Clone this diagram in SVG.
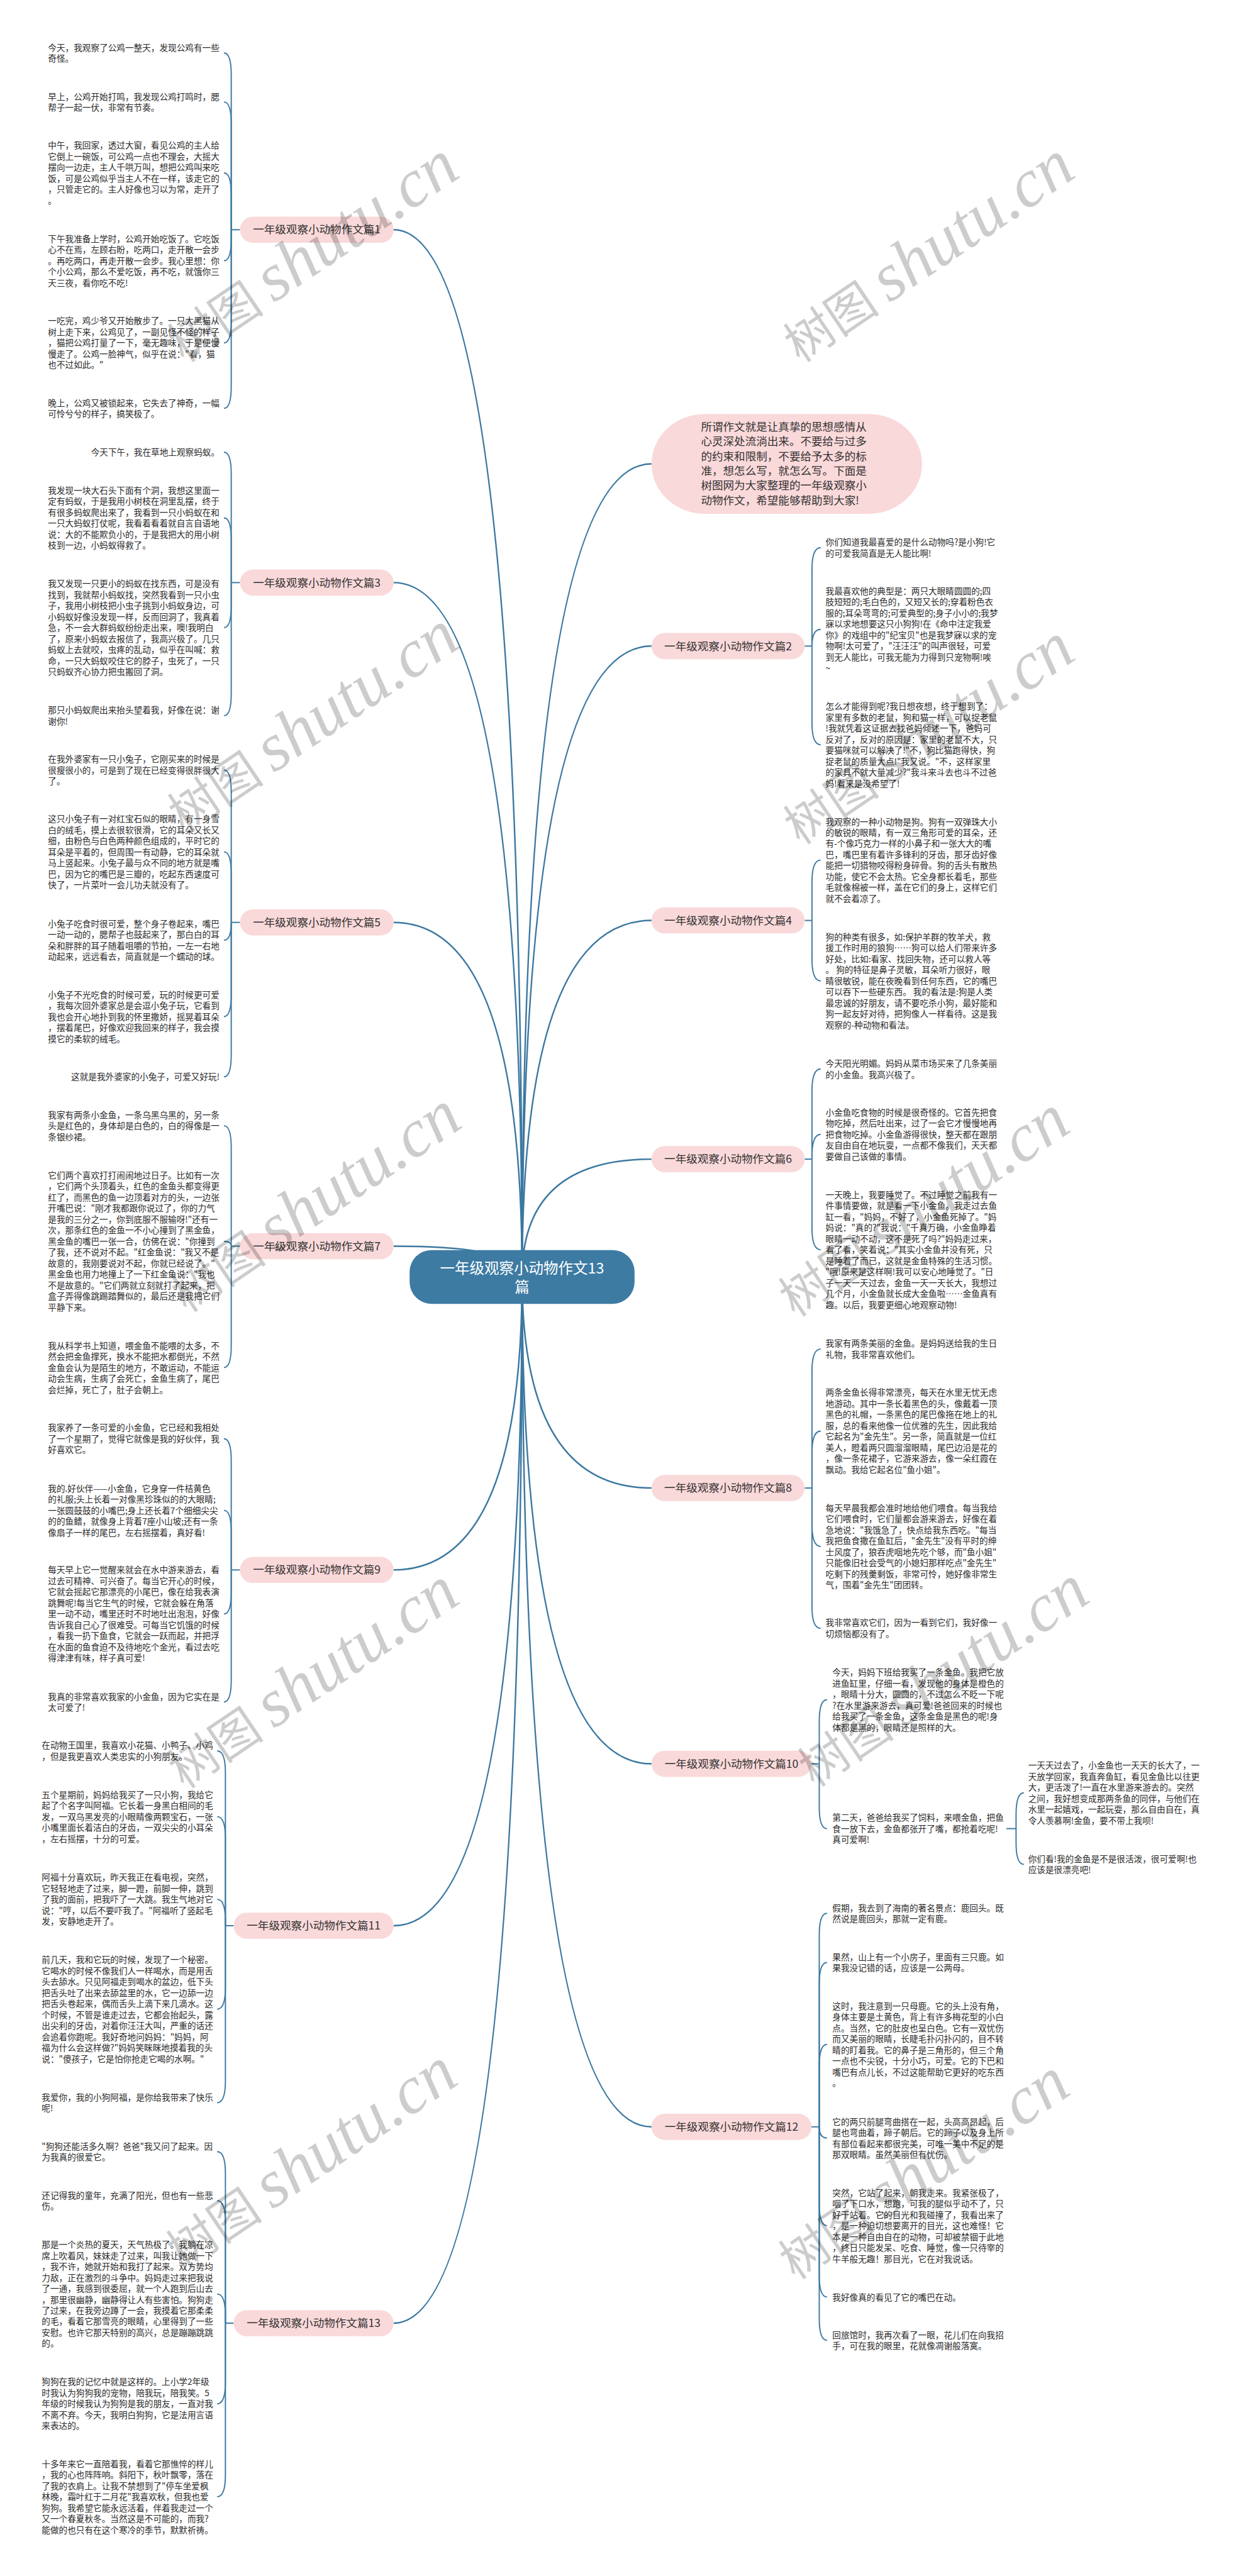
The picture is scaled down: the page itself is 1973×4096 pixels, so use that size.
<svg xmlns="http://www.w3.org/2000/svg" width="1973" height="4096" viewBox="0 0 1973 4096">
<style>
.t{font-family:"Noto Sans CJK SC","Noto Sans",sans-serif;font-size:17.7px;fill:#2b2b2b}
.b{font-family:"Noto Sans CJK SC","Noto Sans",sans-serif;font-size:22.8px;fill:#333;text-anchor:middle}
.c{font-family:"Noto Sans CJK SC","Noto Sans",sans-serif;font-size:30.5px;fill:#fff;text-anchor:middle}
.pk{fill:#fad9da}
.mn{fill:none;stroke:#3c78a1;stroke-width:3.2}
.ln{fill:none;stroke:#3c78a1;stroke-width:2.5}
.wm{fill:#000;fill-opacity:0.2}
.wc{font-family:"Noto Sans CJK SC",sans-serif;font-size:100px}
.wl{font-family:"Liberation Serif",serif;font-style:italic;font-size:140px}
</style>
<rect width="1973" height="4096" fill="#fff"/>
<g transform="scale(0.7707)">
<g id="connectors">
<path class="mn" d="M1077,2634 Q1077,474 812,474"/>
<path class="mn" d="M1077,2634 Q1077,1202 812,1202"/>
<path class="mn" d="M1077,2634 Q1077,1903 812,1903"/>
<path class="mn" d="M1077,2634 Q1077,2571 812,2571"/>
<path class="mn" d="M1077,2634 Q1077,3239 812,3239"/>
<path class="mn" d="M1077,2634 Q1077,3973 812,3973"/>
<path class="mn" d="M1077,2634 Q1077,4793 812,4793"/>
<path class="mn" d="M1077,2634 Q1077,957 1344,957"/>
<path class="mn" d="M1077,2634 Q1077,1333 1344,1333"/>
<path class="mn" d="M1077,2634 Q1077,1899 1344,1899"/>
<path class="mn" d="M1077,2634 Q1077,2391.5 1344,2391.5"/>
<path class="mn" d="M1077,2634 Q1077,3070 1344,3070"/>
<path class="mn" d="M1077,2634 Q1077,3639 1344,3639"/>
<path class="mn" d="M1077,2634 Q1077,4388 1344,4388"/>
<!-- B1 -->
<path class="ln" d="M495,474 H477"/>
<path class="ln" d="M477,474 V154.4 Q477,109.4 462,109.4"/>
<path class="ln" d="M477,474 V255.4 Q477,210.4 462,210.4"/>
<path class="ln" d="M477,474 V401.8 Q477,356.8 462,356.8"/>
<path class="ln" d="M477,474 V492.9 Q477,537.9 462,537.9"/>
<path class="ln" d="M477,474 V662.4 Q477,707.4 462,707.4"/>
<path class="ln" d="M477,474 V797.4 Q477,842.4 462,842.4"/>
<!-- B3 -->
<path class="ln" d="M495,1202 H477"/>
<path class="ln" d="M477,1202 V978 Q477,933 462,933"/>
<path class="ln" d="M477,1202 V1113.4 Q477,1068.4 462,1068.4"/>
<path class="ln" d="M477,1202 V1249.8 Q477,1294.8 462,1294.8"/>
<path class="ln" d="M477,1202 V1431.4 Q477,1476.4 462,1476.4"/>
<!-- B5 -->
<path class="ln" d="M495,1903 H477"/>
<path class="ln" d="M477,1903 V1633.7 Q477,1588.7 462,1588.7"/>
<path class="ln" d="M477,1903 V1802.7 Q477,1757.7 462,1757.7"/>
<path class="ln" d="M477,1903 Q477,1939.8 462,1939.8"/>
<path class="ln" d="M477,1903 V2052.4 Q477,2097.4 462,2097.4"/>
<path class="ln" d="M477,1903 V2176.6 Q477,2221.6 462,2221.6"/>
<!-- B7 -->
<path class="ln" d="M495,2571 H477"/>
<path class="ln" d="M477,2571 V2367.7 Q477,2322.7 462,2322.7"/>
<path class="ln" d="M477,2571 Q477,2561 462,2561"/>
<path class="ln" d="M477,2571 V2776.4 Q477,2821.4 462,2821.4"/>
<!-- B9 -->
<path class="ln" d="M495,3239 H477"/>
<path class="ln" d="M477,3239 V3013.3 Q477,2968.3 462,2968.3"/>
<path class="ln" d="M477,3239 V3161.2 Q477,3116.2 462,3116.2"/>
<path class="ln" d="M477,3239 V3284.8 Q477,3329.8 462,3329.8"/>
<path class="ln" d="M477,3239 V3466.4 Q477,3511.4 462,3511.4"/>
<!-- B11 -->
<path class="ln" d="M482,3973 H465"/>
<path class="ln" d="M465,3973 V3657.4 Q465,3612.4 448,3612.4"/>
<path class="ln" d="M465,3973 V3793.1 Q465,3748.1 448,3748.1"/>
<path class="ln" d="M465,3973 V3963.7 Q465,3918.7 448,3918.7"/>
<path class="ln" d="M465,3973 V4100.2 Q465,4145.2 448,4145.2"/>
<path class="ln" d="M465,3973 V4293.2 Q465,4338.2 448,4338.2"/>
<!-- B13 -->
<path class="ln" d="M482,4793 H465"/>
<path class="ln" d="M465,4793 V4484.2 Q465,4439.2 448,4439.2"/>
<path class="ln" d="M465,4793 V4585.4 Q465,4540.4 448,4540.4"/>
<path class="ln" d="M465,4793 V4777.9 Q465,4732.9 448,4732.9"/>
<path class="ln" d="M465,4793 V4914.4 Q465,4959.4 448,4959.4"/>
<path class="ln" d="M465,4793 V5106.1 Q465,5151.1 448,5151.1"/>
<!-- B2 -->
<path class="ln" d="M1660,1333 H1675"/>
<path class="ln" d="M1675,1333 V1174.8 Q1675,1129.8 1693,1129.8"/>
<path class="ln" d="M1675,1333 Q1675,1298.4 1693,1298.4"/>
<path class="ln" d="M1675,1333 V1491.5 Q1675,1536.5 1693,1536.5"/>
<!-- B4 -->
<path class="ln" d="M1660,1899 H1675"/>
<path class="ln" d="M1675,1899 V1819.5 Q1675,1774.5 1693,1774.5"/>
<path class="ln" d="M1675,1899 V1978.8 Q1675,2023.8 1693,2023.8"/>
<!-- B6 -->
<path class="ln" d="M1660,2391.5 H1675"/>
<path class="ln" d="M1675,2391.5 V2250.4 Q1675,2205.4 1693,2205.4"/>
<path class="ln" d="M1675,2391.5 V2385.4 Q1675,2340.4 1693,2340.4"/>
<path class="ln" d="M1675,2391.5 V2533.3 Q1675,2578.3 1693,2578.3"/>
<!-- B8 -->
<path class="ln" d="M1660,3070 H1675"/>
<path class="ln" d="M1675,3070 V2828.3 Q1675,2783.3 1693,2783.3"/>
<path class="ln" d="M1675,3070 V2997.5 Q1675,2952.5 1693,2952.5"/>
<path class="ln" d="M1675,3070 V3145.5 Q1675,3190.5 1693,3190.5"/>
<path class="ln" d="M1675,3070 V3314.4 Q1675,3359.4 1693,3359.4"/>
<!-- B10 -->
<path class="ln" d="M1674,3639 H1690"/>
<path class="ln" d="M1690,3639 V3551.8 Q1690,3506.8 1706,3506.8"/>
<path class="ln" d="M1690,3639 V3727.7 Q1690,3772.7 1706,3772.7"/>
<path class="ln" d="M2076,3772.7 H2096"/>
<path class="ln" d="M2096,3772.7 V3743.8 Q2096,3698.8 2112,3698.8"/>
<path class="ln" d="M2096,3772.7 V3801.4 Q2096,3846.4 2112,3846.4"/>
<!-- B12 -->
<path class="ln" d="M1674,4388 H1690"/>
<path class="ln" d="M1690,4388 V3992.4 Q1690,3947.4 1706,3947.4"/>
<path class="ln" d="M1690,4388 V4094 Q1690,4049 1706,4049"/>
<path class="ln" d="M1690,4388 V4263 Q1690,4218 1706,4218"/>
<path class="ln" d="M1690,4388 Q1690,4411 1706,4411"/>
<path class="ln" d="M1690,4388 V4546.8 Q1690,4591.8 1706,4591.8"/>
<path class="ln" d="M1690,4388 V4694 Q1690,4739 1706,4739"/>
<path class="ln" d="M1690,4388 V4783.4 Q1690,4828.4 1706,4828.4"/>
</g>

<g id="n-root">
<rect x="845" y="2579" width="464" height="111" rx="45" fill="#3d7ba3"/>
<text class="c" x="1077" y="2627">一年级观察小动物作文13</text>
<text class="c" x="1077" y="2667">篇</text>
</g>

<g id="n-intro">
<rect class="pk" x="1344" y="854" width="558" height="206" rx="110" ry="103"/>
<text class="t" style="font-size:22.8px;fill:#333" transform="translate(1446,888.5)">
<tspan x="0" y="0">所谓作文就是让真挚的思想感情从</tspan>
<tspan x="0" y="30.4">心灵深处流淌出来。不要给与过多</tspan>
<tspan x="0" y="60.8">的约束和限制，不要给予太多的标</tspan>
<tspan x="0" y="91.2">准，想怎么写，就怎么写。下面是</tspan>
<tspan x="0" y="121.6">树图网为大家整理的一年级观察小</tspan>
<tspan x="0" y="152">动物作文，希望能够帮助到大家!</tspan>
</text>
</g>

<!-- Branch nodes -->
<g id="n-b1"><rect class="pk" x="495" y="447" width="317" height="54" rx="27"/><text class="b" x="653.5" y="482">一年级观察小动物作文篇1</text></g>
<g id="n-b3"><rect class="pk" x="495" y="1175" width="317" height="54" rx="27"/><text class="b" x="653.5" y="1210">一年级观察小动物作文篇3</text></g>
<g id="n-b5"><rect class="pk" x="495" y="1876" width="317" height="54" rx="27"/><text class="b" x="653.5" y="1911">一年级观察小动物作文篇5</text></g>
<g id="n-b7"><rect class="pk" x="495" y="2544" width="317" height="54" rx="27"/><text class="b" x="653.5" y="2579">一年级观察小动物作文篇7</text></g>
<g id="n-b9"><rect class="pk" x="495" y="3212" width="317" height="54" rx="27"/><text class="b" x="653.5" y="3247">一年级观察小动物作文篇9</text></g>
<g id="n-b11"><rect class="pk" x="482" y="3946" width="330" height="54" rx="27"/><text class="b" x="647" y="3981">一年级观察小动物作文篇11</text></g>
<g id="n-b13"><rect class="pk" x="482" y="4766" width="330" height="54" rx="27"/><text class="b" x="647" y="4801">一年级观察小动物作文篇13</text></g>
<g id="n-b2"><rect class="pk" x="1344" y="1306" width="316" height="54" rx="27"/><text class="b" x="1502" y="1341">一年级观察小动物作文篇2</text></g>
<g id="n-b4"><rect class="pk" x="1344" y="1872" width="316" height="54" rx="27"/><text class="b" x="1502" y="1907">一年级观察小动物作文篇4</text></g>
<g id="n-b6"><rect class="pk" x="1344" y="2364.5" width="316" height="54" rx="27"/><text class="b" x="1502" y="2399.5">一年级观察小动物作文篇6</text></g>
<g id="n-b8"><rect class="pk" x="1344" y="3043" width="316" height="54" rx="27"/><text class="b" x="1502" y="3078">一年级观察小动物作文篇8</text></g>
<g id="n-b10"><rect class="pk" x="1344" y="3612" width="330" height="54" rx="27"/><text class="b" x="1509" y="3647">一年级观察小动物作文篇10</text></g>
<g id="n-b12"><rect class="pk" x="1344" y="4361" width="330" height="54" rx="27"/><text class="b" x="1509" y="4396">一年级观察小动物作文篇12</text></g>

<!-- B1 leaves -->
<g id="n-b1-1"><text class="t" transform="translate(99,104.7)"><tspan x="0" y="0">今天，我观察了公鸡一整天，发现公鸡有一些</tspan><tspan x="0" y="22.7">奇怪。</tspan></text></g>
<g id="n-b1-2"><text class="t" transform="translate(99,205.7)"><tspan x="0" y="0">早上，公鸡开始打鸣，我发现公鸡打鸣时，腮</tspan><tspan x="0" y="22.7">帮子一起一伏，非常有节奏。</tspan></text></g>
<g id="n-b1-3"><text class="t" transform="translate(99,306.7)"><tspan x="0" y="0">中午，我回家，透过大窗，看见公鸡的主人给</tspan><tspan x="0" y="22.7">它倒上一碗饭，可公鸡一点也不理会，大摇大</tspan><tspan x="0" y="45.4">摆向一边走，主人千哄万叫，想把公鸡叫来吃</tspan><tspan x="0" y="68.1">饭，可是公鸡似乎当主人不在一样，该走它的</tspan><tspan x="0" y="90.8">，只管走它的。主人好像也习以为常，走开了</tspan><tspan x="0" y="113.5">。</tspan></text></g>
<g id="n-b1-4"><text class="t" transform="translate(99,499.2)"><tspan x="0" y="0">下午我准备上学时，公鸡开始吃饭了。它吃饭</tspan><tspan x="0" y="22.7">心不在焉，左顾右盼，吃两口，走开散一会步</tspan><tspan x="0" y="45.4">。再吃两口，再走开散一会步。我心里想：你</tspan><tspan x="0" y="68.1">个小公鸡，那么不爱吃饭，再不吃，就饿你三</tspan><tspan x="0" y="90.8">天三夜，看你吃不吃!</tspan></text></g>
<g id="n-b1-5"><text class="t" transform="translate(99,668.7)"><tspan x="0" y="0">一吃完，鸡少爷又开始散步了。一只大黑猫从</tspan><tspan x="0" y="22.7">树上走下来，公鸡见了，一副见怪不怪的样子</tspan><tspan x="0" y="45.4">，猫把公鸡打量了一下，毫无趣味，于是便慢</tspan><tspan x="0" y="68.1">慢走了。公鸡一脸神气，似乎在说："看，猫</tspan><tspan x="0" y="90.8">也不过如此。"</tspan></text></g>
<g id="n-b1-6"><text class="t" transform="translate(99,837.7)"><tspan x="0" y="0">晚上，公鸡又被锁起来，它失去了神奇，一幅</tspan><tspan x="0" y="22.7">可怜兮兮的样子，搞笑极了。</tspan></text></g>

<!-- B3 leaves -->
<g id="n-b3-1"><text class="t" x="453" y="939.7" text-anchor="end">今天下午，我在草地上观察蚂蚁。</text></g>
<g id="n-b3-2"><text class="t" transform="translate(99,1018.3)"><tspan x="0" y="0">我发现一块大石头下面有个洞，我想这里面一</tspan><tspan x="0" y="22.7">定有蚂蚁，于是我用小树枝在洞里乱摆，终于</tspan><tspan x="0" y="45.4">有很多蚂蚁爬出来了，我看到一只小蚂蚁在和</tspan><tspan x="0" y="68.1">一只大蚂蚁打仗呢，我看着看着就自言自语地</tspan><tspan x="0" y="90.8">说：大的不能欺负小的，于是我把大的用小树</tspan><tspan x="0" y="113.5">枝到一边，小蚂蚁得救了。</tspan></text></g>
<g id="n-b3-3"><text class="t" transform="translate(99,1210.7)"><tspan x="0" y="0">我又发现一只更小的蚂蚁在找东西，可是没有</tspan><tspan x="0" y="22.7">找到，我就帮小蚂蚁找，突然我看到一只小虫</tspan><tspan x="0" y="45.4">子，我用小树枝把小虫子挑到小蚂蚁身边，可</tspan><tspan x="0" y="68.1">小蚂蚁好像没发现一样，反而回洞了，我真着</tspan><tspan x="0" y="90.8">急，不一会大群蚂蚁纷纷走出来，噢!我明白</tspan><tspan x="0" y="113.5">了，原来小蚂蚁去报信了，我高兴极了。几只</tspan><tspan x="0" y="136.2">蚂蚁上去就咬，虫疼的乱动，似乎在叫喊：救</tspan><tspan x="0" y="158.9">命，一只大蚂蚁咬住它的脖子，虫死了，一只</tspan><tspan x="0" y="181.6">只蚂蚁齐心协力把虫搬回了洞。</tspan></text></g>
<g id="n-b3-4"><text class="t" transform="translate(99,1471.7)"><tspan x="0" y="0">那只小蚂蚁爬出来抬头望着我，好像在说：谢</tspan><tspan x="0" y="22.7">谢你!</tspan></text></g>

<!-- B5 leaves -->
<g id="n-b5-1"><text class="t" transform="translate(99,1572.7)"><tspan x="0" y="0">在我外婆家有一只小兔子，它刚买来的时候是</tspan><tspan x="0" y="22.7">很瘦很小的，可是到了现在已经变得很胖很大</tspan><tspan x="0" y="45.4">了。</tspan></text></g>
<g id="n-b5-2"><text class="t" transform="translate(99,1696.3)"><tspan x="0" y="0">这只小兔子有一对红宝石似的眼睛，有一身雪</tspan><tspan x="0" y="22.7">白的绒毛，摸上去很软很滑，它的耳朵又长又</tspan><tspan x="0" y="45.4">细，由粉色与白色两种颜色组成的，平时它的</tspan><tspan x="0" y="68.1">耳朵是平着的，但周围一有动静，它的耳朵就</tspan><tspan x="0" y="90.8">马上竖起来。小兔子最与众不同的地方就是嘴</tspan><tspan x="0" y="113.5">巴，因为它的嘴巴是三瓣的，吃起东西速度可</tspan><tspan x="0" y="136.2">快了，一片菜叶一会儿功夫就没有了。</tspan></text></g>
<g id="n-b5-3"><text class="t" transform="translate(99,1912.4)"><tspan x="0" y="0">小兔子吃食时很可爱，整个身子卷起来，嘴巴</tspan><tspan x="0" y="22.7">一动一动的，腮帮子也鼓起来了，那白白的耳</tspan><tspan x="0" y="45.4">朵和胖胖的耳子随着咀嚼的节拍，一左一右地</tspan><tspan x="0" y="68.1">动起来，远远看去，简直就是一个蠕动的球。</tspan></text></g>
<g id="n-b5-4"><text class="t" transform="translate(99,2058.7)"><tspan x="0" y="0">小兔子不光吃食的时候可爱，玩的时候更可爱</tspan><tspan x="0" y="22.7">，我每次回外婆家总是会逗小兔子玩，它看到</tspan><tspan x="0" y="45.4">我也会开心地扑到我的怀里撒娇，摇晃着耳朵</tspan><tspan x="0" y="68.1">，摆着尾巴，好像欢迎我回来的样子，我会摸</tspan><tspan x="0" y="90.8">摸它的柔软的绒毛。</tspan></text></g>
<g id="n-b5-5"><text class="t" x="453" y="2228.3" text-anchor="end">这就是我外婆家的小兔子，可爱又好玩!</text></g>

<!-- B7 leaves -->
<g id="n-b7-1"><text class="t" transform="translate(99,2306.7)"><tspan x="0" y="0">我家有两条小金鱼，一条乌黑乌黑的，另一条</tspan><tspan x="0" y="22.7">头是红色的，身体却是白色的，白的得像是一</tspan><tspan x="0" y="45.4">条银纱裙。</tspan></text></g>
<g id="n-b7-2"><text class="t" transform="translate(99,2431.5)"><tspan x="0" y="0">它们两个喜欢打打闹闹地过日子。比如有一次</tspan><tspan x="0" y="22.7">，它们两个头顶着头，红色的金鱼头都变得更</tspan><tspan x="0" y="45.4">红了，而黑色的鱼一边顶着对方的头，一边张</tspan><tspan x="0" y="68.1">开嘴巴说："刚才我都跟你说过了，你的力气</tspan><tspan x="0" y="90.8">是我的三分之一，你到底服不服输呀!"还有一</tspan><tspan x="0" y="113.5">次，那条红色的金鱼一不小心撞到了黑金鱼，</tspan><tspan x="0" y="136.2">黑金鱼的嘴巴一张一合，仿佛在说："你撞到</tspan><tspan x="0" y="158.9">了我，还不说对不起。"红金鱼说："我又不是</tspan><tspan x="0" y="181.6">故意的，我刚要说对不起，你就已经说了。"</tspan><tspan x="0" y="204.3">黑金鱼也用力地撞上了一下红金鱼说："我也</tspan><tspan x="0" y="227">不是故意的。"它们两就立刻就打了起来，把</tspan><tspan x="0" y="249.7">盒子弄得像跳踢踏舞似的，最后还是我把它们</tspan><tspan x="0" y="272.4">平静下来。</tspan></text></g>
<g id="n-b7-3"><text class="t" transform="translate(99,2782.7)"><tspan x="0" y="0">我从科学书上知道，喂金鱼不能喂的太多，不</tspan><tspan x="0" y="22.7">然会把金鱼撑死，换水不能把水都倒光，不然</tspan><tspan x="0" y="45.4">金鱼会认为是陌生的地方，不敢运动，不能运</tspan><tspan x="0" y="68.1">动会生病，生病了会死亡，金鱼生病了，尾巴</tspan><tspan x="0" y="90.8">会烂掉，死亡了，肚子会朝上。</tspan></text></g>

<!-- B9 leaves -->
<g id="n-b9-1"><text class="t" transform="translate(99,2952.3)"><tspan x="0" y="0">我家养了一条可爱的小金鱼，它已经和我相处</tspan><tspan x="0" y="22.7">了一个星期了，觉得它就像是我的好伙伴，我</tspan><tspan x="0" y="45.4">好喜欢它。</tspan></text></g>
<g id="n-b9-2"><text class="t" transform="translate(99,3077.5)"><tspan x="0" y="0">我的.好伙伴——小金鱼，它身穿一件桔黄色</tspan><tspan x="0" y="22.7">的礼服;头上长着一对像黑珍珠似的的大眼睛;</tspan><tspan x="0" y="45.4">一张圆鼓鼓的小嘴巴;身上还长着7个细细尖尖</tspan><tspan x="0" y="68.1">的的鱼鳍，就像身上背着7座小山坡;还有一条</tspan><tspan x="0" y="90.8">像扇子一样的尾巴，左右摇摆着，真好看!</tspan></text></g>
<g id="n-b9-3"><text class="t" transform="translate(99,3245.7)"><tspan x="0" y="0">每天早上它一觉醒来就会在水中游来游去，看</tspan><tspan x="0" y="22.7">过去可精神、可兴奋了。每当它开心的时候，</tspan><tspan x="0" y="45.4">它就会摇起它那漂亮的小尾巴，像在给我表演</tspan><tspan x="0" y="68.1">跳舞呢!每当它生气的时候，它就会躲在角落</tspan><tspan x="0" y="90.8">里一动不动，嘴里还时不时地吐出泡泡，好像</tspan><tspan x="0" y="113.5">告诉我自己心了很难受。可每当它饥饿的时候</tspan><tspan x="0" y="136.2">，看我一扔下鱼食，它就会一跃而起，并把浮</tspan><tspan x="0" y="158.9">在水面的鱼食迫不及待地吃个金光，看过去吃</tspan><tspan x="0" y="181.6">得津津有味，样子真可爱!</tspan></text></g>
<g id="n-b9-4"><text class="t" transform="translate(99,3506.7)"><tspan x="0" y="0">我真的非常喜欢我家的小金鱼，因为它实在是</tspan><tspan x="0" y="22.7">太可爱了!</tspan></text></g>

<!-- B11 leaves -->
<g id="n-b11-1"><text class="t" transform="translate(86,3607.7)"><tspan x="0" y="0">在动物王国里，我喜欢小花猫、小鸭子、小鸡</tspan><tspan x="0" y="22.7">，但是我更喜欢人类忠实的小狗朋友。</tspan></text></g>
<g id="n-b11-2"><text class="t" transform="translate(86,3709.4)"><tspan x="0" y="0">五个星期前，妈妈给我买了一只小狗，我给它</tspan><tspan x="0" y="22.7">起了个名字叫阿福。它长着一身黑白相间的毛</tspan><tspan x="0" y="45.4">发，一双乌黑发亮的小眼睛像两颗宝石，一张</tspan><tspan x="0" y="68.1">小嘴里面长着洁白的牙齿，一双尖尖的小耳朵</tspan><tspan x="0" y="90.8">，左右摇摆，十分的可爱。</tspan></text></g>
<g id="n-b11-3"><text class="t" transform="translate(86,3880)"><tspan x="0" y="0">阿福十分喜欢玩，昨天我正在看电视，突然，</tspan><tspan x="0" y="22.7">它轻轻地走了过来，脚一蹬，前脚一伸，跳到</tspan><tspan x="0" y="45.4">了我的面前，把我吓了一大跳。我生气地对它</tspan><tspan x="0" y="68.1">说："哼，以后不要吓我了。"阿福听了竖起毛</tspan><tspan x="0" y="90.8">发，安静地走开了。</tspan></text></g>
<g id="n-b11-4"><text class="t" transform="translate(86,4049.7)"><tspan x="0" y="0">前几天，我和它玩的时候，发现了一个秘密。</tspan><tspan x="0" y="22.7">它喝水的时候不像我们人一样喝水，而是用舌</tspan><tspan x="0" y="45.4">头去舔水。只见阿福走到喝水的盆边，低下头</tspan><tspan x="0" y="68.1">把舌头吐了出来去舔盆里的水，它一边舔一边</tspan><tspan x="0" y="90.8">把舌头卷起来，偶而舌头上滴下来几滴水。这</tspan><tspan x="0" y="113.5">个时候，不管是谁走过去，它都会抬起头，露</tspan><tspan x="0" y="136.2">出尖利的牙齿，对着你汪汪大叫，严重的话还</tspan><tspan x="0" y="158.9">会追着你跑呢。我好奇地问妈妈："妈妈，阿</tspan><tspan x="0" y="181.6">福为什么会这样做?"妈妈笑眯眯地摸着我的头</tspan><tspan x="0" y="204.3">说："傻孩子，它是怕你抢走它喝的水啊。"</tspan></text></g>
<g id="n-b11-5"><text class="t" transform="translate(86,4333.5)"><tspan x="0" y="0">我爱你，我的小狗阿福，是你给我带来了快乐</tspan><tspan x="0" y="22.7">呢!</tspan></text></g>

<!-- B13 leaves -->
<g id="n-b13-1"><text class="t" transform="translate(86,4434.5)"><tspan x="0" y="0">"狗狗还能活多久啊？爸爸"我又问了起来。因</tspan><tspan x="0" y="22.7">为我真的很爱它。</tspan></text></g>
<g id="n-b13-2"><text class="t" transform="translate(86,4535.7)"><tspan x="0" y="0">还记得我的童年，充满了阳光，但也有一些悲</tspan><tspan x="0" y="22.7">伤。</tspan></text></g>
<g id="n-b13-3"><text class="t" transform="translate(86,4637.4)"><tspan x="0" y="0">那是一个炎热的夏天，天气热极了。我躺在凉</tspan><tspan x="0" y="22.7">席上吹着风，妹妹走了过来，叫我让她做一下</tspan><tspan x="0" y="45.4">，我不许，她就开始和我打了起来。双方势均</tspan><tspan x="0" y="68.1">力敌，正在激烈的斗争中。妈妈走过来把我说</tspan><tspan x="0" y="90.8">了一通，我感到很委屈，就一个人跑到后山去</tspan><tspan x="0" y="113.5">，那里很幽静，幽静得让人有些害怕。狗狗走</tspan><tspan x="0" y="136.2">了过来，在我旁边蹲了一会，我摸着它那柔柔</tspan><tspan x="0" y="158.9">的毛，看着它那雪亮的眼睛，心里得到了一些</tspan><tspan x="0" y="181.6">安慰。也许它那天特别的高兴，总是蹦蹦跳跳</tspan><tspan x="0" y="204.3">的。</tspan></text></g>
<g id="n-b13-4"><text class="t" transform="translate(86,4920.7)"><tspan x="0" y="0">狗狗在我的记忆中就是这样的。上小学2年级</tspan><tspan x="0" y="22.7">时我认为狗狗我的宠物，陪我玩，陪我笑。5</tspan><tspan x="0" y="45.4">年级的时候我认为狗狗是我的朋友，一直对我</tspan><tspan x="0" y="68.1">不离不弃。今天，我明白狗狗，它是法用言语</tspan><tspan x="0" y="90.8">来表达的。</tspan></text></g>
<g id="n-b13-5"><text class="t" transform="translate(86,5089.7)"><tspan x="0" y="0">十多年来它一直陪着我，看着它那憔悴的样儿</tspan><tspan x="0" y="22.7">，我的心也阵阵响。斜阳下，秋叶飘零，落在</tspan><tspan x="0" y="45.4">了我的衣肩上。让我不禁想到了"停车坐爱枫</tspan><tspan x="0" y="68.1">林晚，霜叶红于二月花"我喜欢秋，但我也爱</tspan><tspan x="0" y="90.8">狗狗。我希望它能永远活着，伴着我走过一个</tspan><tspan x="0" y="113.5">又一个春夏秋冬。当然这是不可能的，而我?</tspan><tspan x="0" y="136.2">能做的也只有在这个寒冷的季节，默默祈祷。</tspan></text></g>

<!-- B2 leaves -->
<g id="n-b2-1"><text class="t" transform="translate(1703,1125.1)"><tspan x="0" y="0">你们知道我最喜爱的是什么动物吗?是小狗!它</tspan><tspan x="0" y="22.7">的可爱我简直是无人能比啊!</tspan></text></g>
<g id="n-b2-2"><text class="t" transform="translate(1703,1225.6)"><tspan x="0" y="0">我最喜欢他的典型是：两只大眼睛圆圆的;四</tspan><tspan x="0" y="22.7">肢短短的;毛白色的，又短又长的;穿着粉色衣</tspan><tspan x="0" y="45.4">服的;耳朵弯弯的;可爱典型的;身子小小的;我梦</tspan><tspan x="0" y="68.1">寐以求地想要这只小狗狗!在《命中注定我爱</tspan><tspan x="0" y="90.8">你》的戏组中的"纪宝贝"也是我梦寐以求的宠</tspan><tspan x="0" y="113.5">物啊!太可爱了，"汪汪汪"的叫声很轻，可爱</tspan><tspan x="0" y="136.2">到无人能比，可我无能为力得到只宠物啊!唉</tspan><tspan x="0" y="158.9">~</tspan></text></g>
<g id="n-b2-3"><text class="t" transform="translate(1703,1463.7)"><tspan x="0" y="0">怎么才能得到呢?我日想夜想，终于想到了：</tspan><tspan x="0" y="22.7">家里有多数的老鼠，狗和猫一样，可以捉老鼠</tspan><tspan x="0" y="45.4">!我就凭着这证据去找爸妈倾述一下，爸妈可</tspan><tspan x="0" y="68.1">反对了，反对的原因是：家里的老鼠不大，只</tspan><tspan x="0" y="90.8">要猫咪就可以解决了!"不，狗比猫跑得快，狗</tspan><tspan x="0" y="113.5">捉老鼠的质量大点!"我又说。"不，这样家里</tspan><tspan x="0" y="136.2">的家具不就大量减少?"我斗来斗去也斗不过爸</tspan><tspan x="0" y="158.9">妈!看来是没希望了!</tspan></text></g>

<!-- B4 leaves -->
<g id="n-b4-1"><text class="t" transform="translate(1703,1701.7)"><tspan x="0" y="0">我观察的一种小动物是狗。狗有一双弹珠大小</tspan><tspan x="0" y="22.7">的敏锐的眼睛，有一双三角形可爱的耳朵，还</tspan><tspan x="0" y="45.4">有-个像巧克力一样的小鼻子和一张大大的嘴</tspan><tspan x="0" y="68.1">巴，嘴巴里有着许多锋利的牙齿，那牙齿好像</tspan><tspan x="0" y="90.8">能把一切猎物咬得粉身碎骨。狗的舌头有散热</tspan><tspan x="0" y="113.5">功能，使它不会太热。它全身都长着毛，那些</tspan><tspan x="0" y="136.2">毛就像棉被一样，盖在它们的身上，这样它们</tspan><tspan x="0" y="158.9">就不会着凉了。</tspan></text></g>
<g id="n-b4-2"><text class="t" transform="translate(1703,1939.7)"><tspan x="0" y="0">狗的种类有很多，如:保护羊群的牧羊犬，救</tspan><tspan x="0" y="22.7">援工作时用的狼狗……狗可以给人们带来许多</tspan><tspan x="0" y="45.4">好处，比如:看家、找回失物，还可以救人等</tspan><tspan x="0" y="68.1">。 狗的特征是鼻子灵敏，耳朵听力很好，眼</tspan><tspan x="0" y="90.8">睛很敏锐，能在夜晚看到任何东西，它的嘴巴</tspan><tspan x="0" y="113.5">可以吞下一些硬东西。 我的看法是:狗是人类</tspan><tspan x="0" y="136.2">最忠诚的好朋友，请不要吃杀小狗，最好能和</tspan><tspan x="0" y="158.9">狗一起友好对待，把狗像人一样看待。这是我</tspan><tspan x="0" y="181.6">观察的-种动物和看法。</tspan></text></g>

<!-- B6 leaves -->
<g id="n-b6-1"><text class="t" transform="translate(1703,2200.7)"><tspan x="0" y="0">今天阳光明媚。妈妈从菜市场买来了几条美丽</tspan><tspan x="0" y="22.7">的小金鱼。我高兴极了。</tspan></text></g>
<g id="n-b6-2"><text class="t" transform="translate(1703,2301.7)"><tspan x="0" y="0">小金鱼吃食物的时候是很奇怪的。它首先把食</tspan><tspan x="0" y="22.7">物吃掉，然后吐出来，过了一会它才慢慢地再</tspan><tspan x="0" y="45.4">把食物吃掉。小金鱼游得很快，整天都在跟朋</tspan><tspan x="0" y="68.1">友自由自在地玩耍，一点都不像我们，天天都</tspan><tspan x="0" y="90.8">要做自己该做的事情。</tspan></text></g>
<g id="n-b6-3"><text class="t" transform="translate(1703,2471.5)"><tspan x="0" y="0">一天晚上，我要睡觉了。不过睡觉之前我有一</tspan><tspan x="0" y="22.7">件事情要做，就是看一下小金鱼。我走过去鱼</tspan><tspan x="0" y="45.4">缸一看，"妈妈，不好了，小金鱼死掉了。"妈</tspan><tspan x="0" y="68.1">妈说："真的?"我说："千真万确，小金鱼睁着</tspan><tspan x="0" y="90.8">眼睛一动不动，这不是死了吗?"妈妈走过来，</tspan><tspan x="0" y="113.5">看了看，笑着说："其实小金鱼并没有死，只</tspan><tspan x="0" y="136.2">是睡着了而已，这就是金鱼特殊的生活习惯。</tspan><tspan x="0" y="158.9">"哦!原来是这样啊!我可以安心地睡觉了。"日</tspan><tspan x="0" y="181.6">子一天一天过去，金鱼一天一天长大，我想过</tspan><tspan x="0" y="204.3">几个月，小金鱼就长成大金鱼啦……金鱼真有</tspan><tspan x="0" y="227">趣。以后，我要更细心地观察动物!</tspan></text></g>

<!-- B8 leaves -->
<g id="n-b8-1"><text class="t" transform="translate(1703,2778.6)"><tspan x="0" y="0">我家有两条美丽的金鱼。是妈妈送给我的生日</tspan><tspan x="0" y="22.7">礼物，我非常喜欢他们。</tspan></text></g>
<g id="n-b8-2"><text class="t" transform="translate(1703,2879.7)"><tspan x="0" y="0">两条金鱼长得非常漂亮，每天在水里无忧无虑</tspan><tspan x="0" y="22.7">地游动。其中一条长着黑色的头，像戴着一顶</tspan><tspan x="0" y="45.4">黑色的礼帽，一条黑色的尾巴像拖在地上的礼</tspan><tspan x="0" y="68.1">服，总的看来他像一位优雅的先生，因此我给</tspan><tspan x="0" y="90.8">它起名为"金先生"。另一条，简直就是一位红</tspan><tspan x="0" y="113.5">美人，瞪着两只圆溜溜眼睛，尾巴边沿是花的</tspan><tspan x="0" y="136.2">，像一条花裙子，它游来游去，像一朵红霞在</tspan><tspan x="0" y="158.9">飘动。我给它起名位"鱼小姐"。</tspan></text></g>
<g id="n-b8-3"><text class="t" transform="translate(1703,3117.7)"><tspan x="0" y="0">每天早晨我都会准时地给他们喂食。每当我给</tspan><tspan x="0" y="22.7">它们喂食时，它们量都会游来游去，好像在着</tspan><tspan x="0" y="45.4">急地说："我饿急了，快点给我东西吃。"每当</tspan><tspan x="0" y="68.1">我把鱼食撒在鱼缸后，"金先生"没有平时的绅</tspan><tspan x="0" y="90.8">士风度了，狼吞虎咽地先吃个够，而"鱼小姐"</tspan><tspan x="0" y="113.5">只能像旧社会受气的小媳妇那样吃点"金先生"</tspan><tspan x="0" y="136.2">吃剩下的残羹剩饭，非常可怜，她好像非常生</tspan><tspan x="0" y="158.9">气，围着"金先生"团团转。</tspan></text></g>
<g id="n-b8-4"><text class="t" transform="translate(1703,3354.7)"><tspan x="0" y="0">我非常喜欢它们，因为一看到它们，我好像一</tspan><tspan x="0" y="22.7">切烦恼都没有了。</tspan></text></g>

<!-- B10 leaves -->
<g id="n-b10-1"><text class="t" transform="translate(1717,3456.7)"><tspan x="0" y="0">今天，妈妈下班给我买了一条金鱼。我把它放</tspan><tspan x="0" y="22.7">进鱼缸里，仔细一看，发现他的身体是橙色的</tspan><tspan x="0" y="45.4">，眼睛十分大，圆圆的，不过怎么不眨一下呢</tspan><tspan x="0" y="68.1">?在水里游来游去，真可爱!爸爸回来的时候也</tspan><tspan x="0" y="90.8">给我买了一条金鱼，这条金鱼是黑色的呢!身</tspan><tspan x="0" y="113.5">体都是黑的，眼睛还是照样的大。</tspan></text></g>
<g id="n-b10-2"><text class="t" transform="translate(1717,3756.7)"><tspan x="0" y="0">第二天，爸爸给我买了饲料，来喂金鱼，把鱼</tspan><tspan x="0" y="22.7">食一放下去，金鱼都张开了嘴，都抢着吃呢!</tspan><tspan x="0" y="45.4">真可爱啊!</tspan></text></g>
<g id="n-b10-2-1"><text class="t" transform="translate(2121,3648.7)"><tspan x="0" y="0">一天天过去了，小金鱼也一天天的长大了，一</tspan><tspan x="0" y="22.7">天放学回家，我直奔鱼缸，看见金鱼比以往更</tspan><tspan x="0" y="45.4">大，更活泼了!一直在水里游来游去的。突然</tspan><tspan x="0" y="68.1">之间，我好想变成那两条鱼的同伴，与他们在</tspan><tspan x="0" y="90.8">水里一起嬉戏，一起玩耍，那么自由自在，真</tspan><tspan x="0" y="113.5">令人羡慕啊!金鱼，要不带上我呗!</tspan></text></g>
<g id="n-b10-2-2"><text class="t" transform="translate(2121,3841.7)"><tspan x="0" y="0">你们看!我的金鱼是不是很活泼，很可爱啊!也</tspan><tspan x="0" y="22.7">应该是很漂亮吧!</tspan></text></g>

<!-- B12 leaves -->
<g id="n-b12-1"><text class="t" transform="translate(1717,3942.7)"><tspan x="0" y="0">假期，我去到了海南的著名景点：鹿回头。既</tspan><tspan x="0" y="22.7">然说是鹿回头，那就一定有鹿。</tspan></text></g>
<g id="n-b12-2"><text class="t" transform="translate(1717,4044.3)"><tspan x="0" y="0">果然，山上有一个小房子，里面有三只鹿。如</tspan><tspan x="0" y="22.7">果我没记错的话，应该是一公两母。</tspan></text></g>
<g id="n-b12-3"><text class="t" transform="translate(1717,4145.3)"><tspan x="0" y="0">这时，我注意到一只母鹿。它的头上没有角，</tspan><tspan x="0" y="22.7">身体主要是土黄色，背上有许多梅花型的小白</tspan><tspan x="0" y="45.4">点。当然，它的肚皮也呈白色。它有一双忧伤</tspan><tspan x="0" y="68.1">而又美丽的眼睛，长睫毛扑闪扑闪的，目不转</tspan><tspan x="0" y="90.8">睛的盯着我。它的鼻子是三角形的，但三个角</tspan><tspan x="0" y="113.5">一点也不尖锐，十分小巧，可爱。它的下巴和</tspan><tspan x="0" y="136.2">嘴巴有点儿长，不过这能帮助它更好的吃东西</tspan><tspan x="0" y="158.9">。</tspan></text></g>
<g id="n-b12-4"><text class="t" transform="translate(1717,4383.7)"><tspan x="0" y="0">它的两只前腿弯曲搭在一起，头高高昂起，后</tspan><tspan x="0" y="22.7">腿也弯曲着，蹄子朝后。它的蹄子以及身上所</tspan><tspan x="0" y="45.4">有部位看起来都很完美，可唯一美中不足的是</tspan><tspan x="0" y="68.1">那双眼睛。虽然美丽但有忧伤。</tspan></text></g>
<g id="n-b12-5"><text class="t" transform="translate(1717,4530.4)"><tspan x="0" y="0">突然，它站了起来，朝我走来。我紧张极了，</tspan><tspan x="0" y="22.7">咽了下口水，想跑，可我的腿似乎动不了，只</tspan><tspan x="0" y="45.4">好干站着。它的目光和我碰撞了，我看出来了</tspan><tspan x="0" y="68.1">，是一种迫切想要离开的目光，这也难怪！它</tspan><tspan x="0" y="90.8">本是一种自由自在的动物，可却被禁锢于此地</tspan><tspan x="0" y="113.5">，终日只能发呆、吃食、睡觉，像一只待宰的</tspan><tspan x="0" y="136.2">牛羊般无趣！那目光，它在对我说话。</tspan></text></g>
<g id="n-b12-6"><text class="t" x="1717" y="4745.7">我好像真的看见了它的嘴巴在动。</text></g>
<g id="n-b12-7"><text class="t" transform="translate(1717,4823.7)"><tspan x="0" y="0">回旅馆时，我再次看了一眼，花儿们在向我招</tspan><tspan x="0" y="22.7">手，可在我的眼里，花就像凋谢般落寞。</tspan></text></g>

<g id="watermarks">
<text class="wm" transform="translate(380,750) rotate(-34)"><tspan class="wc">树图 </tspan><tspan class="wl">shutu.cn</tspan></text>
<text class="wm" transform="translate(380,1720) rotate(-34)"><tspan class="wc">树图 </tspan><tspan class="wl">shutu.cn</tspan></text>
<text class="wm" transform="translate(385,2710) rotate(-34)"><tspan class="wc">树图 </tspan><tspan class="wl">shutu.cn</tspan></text>
<text class="wm" transform="translate(380,3692) rotate(-34)"><tspan class="wc">树图 </tspan><tspan class="wl">shutu.cn</tspan></text>
<text class="wm" transform="translate(377,4684) rotate(-34)"><tspan class="wc">树图 </tspan><tspan class="wl">shutu.cn</tspan></text>
<text class="wm" transform="translate(1650,750) rotate(-34)"><tspan class="wc">树图 </tspan><tspan class="wl">shutu.cn</tspan></text>
<text class="wm" transform="translate(1650,1745) rotate(-34)"><tspan class="wc">树图 </tspan><tspan class="wl">shutu.cn</tspan></text>
<text class="wm" transform="translate(1640,2719) rotate(-34)"><tspan class="wc">树图 </tspan><tspan class="wl">shutu.cn</tspan></text>
<text class="wm" transform="translate(1680,3689) rotate(-34)"><tspan class="wc">树图 </tspan><tspan class="wl">shutu.cn</tspan></text>
<text class="wm" transform="translate(1640,4705) rotate(-34)"><tspan class="wc">树图 </tspan><tspan class="wl">shutu.cn</tspan></text>
</g>
</g>
</svg>
